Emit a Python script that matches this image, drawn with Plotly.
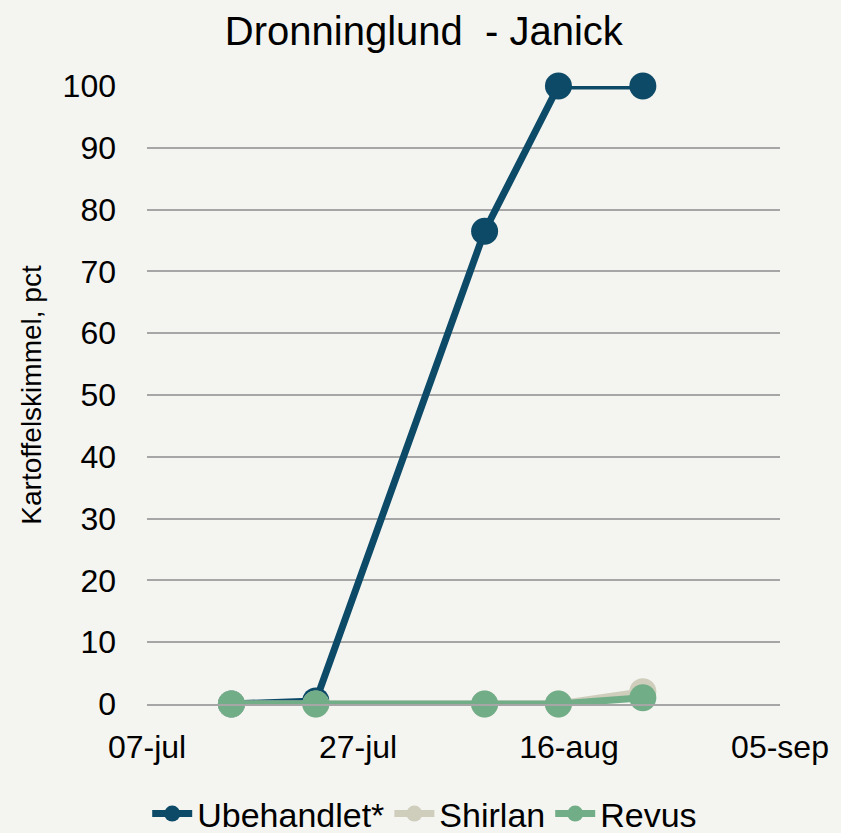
import plotly.graph_objects as go

dates = ["2023-07-15", "2023-07-23", "2023-08-08", "2023-08-15", "2023-08-23"]
ubehandlet = [0, 0.5, 76.5, 100, 100]
shirlan = [0, 0, 0, 0, 2]
revus = [0, 0, 0, 0, 1]

x_tick_vals = ["2023-07-07", "2023-07-27", "2023-08-16", "2023-09-05"]
x_tick_text = ["07-jul", "27-jul", "16-aug", "05-sep"]
y_ticks = [0, 10, 20, 30, 40, 50, 60, 70, 80, 90, 100]

series = [
    ("Ubehandlet*", ubehandlet, "#0C4A67"),
    ("Shirlan", shirlan, "#CFCDBB"),
    ("Revus", revus, "#71AE88"),
]

fig = go.Figure()
for name, vals, color in series:
    fig.add_trace(go.Scatter(
        x=dates, y=vals, name=name, mode="lines+markers",
        line=dict(color=color, width=7),
        marker=dict(color=color, size=27),
        cliponaxis=False,
    ))

FONT = "Liberation Sans, Arial, sans-serif"
fig.update_layout(
    width=841, height=833,
    paper_bgcolor="#F4F4F0", plot_bgcolor="#F4F4F0",
    margin=dict(l=147, r=58, t=86, b=129),
    font=dict(family=FONT, color="#000000"),
    title=dict(text="Dronninglund  - Janick", x=0.504, xanchor="center",
               y=1 - 31 / 833, yanchor="middle", yref="container",
               font=dict(size=40, family=FONT, color="#000000")),
    showlegend=True,
    legend=dict(orientation="h", xref="container", yref="container",
                x=0.505, xanchor="center", y=1 - 814 / 833, yanchor="middle",
                font=dict(size=34, family=FONT, color="#000000"),
                bgcolor="rgba(0,0,0,0)", itemwidth=40),
    xaxis=dict(type="date", range=[x_tick_vals[0], x_tick_vals[-1]],
               tickmode="array", tickvals=x_tick_vals, ticktext=x_tick_text,
               showgrid=False, showline=True, linecolor="#A6A6A6", linewidth=1.5,
               ticks="", ticklabelstandoff=14,
               tickfont=dict(size=32, family=FONT, color="#000000")),
    yaxis=dict(range=[0, 100], tickmode="array", tickvals=y_ticks,
               showgrid=True, gridcolor="#A6A6A6", gridwidth=1.5,
               zeroline=False, showline=False, ticks="", ticklabelstandoff=30,
               tickfont=dict(size=32, family=FONT, color="#000000"),
               title=dict(text="Kartoffelskimmel, pct", standoff=12,
                          font=dict(size=28, family=FONT, color="#000000"))),
)

fig.write_html(
    "out.html",
    config={"displayModeBar": False},
    post_script="document.body.style.margin='0';document.body.style.overflow='hidden';",
)
